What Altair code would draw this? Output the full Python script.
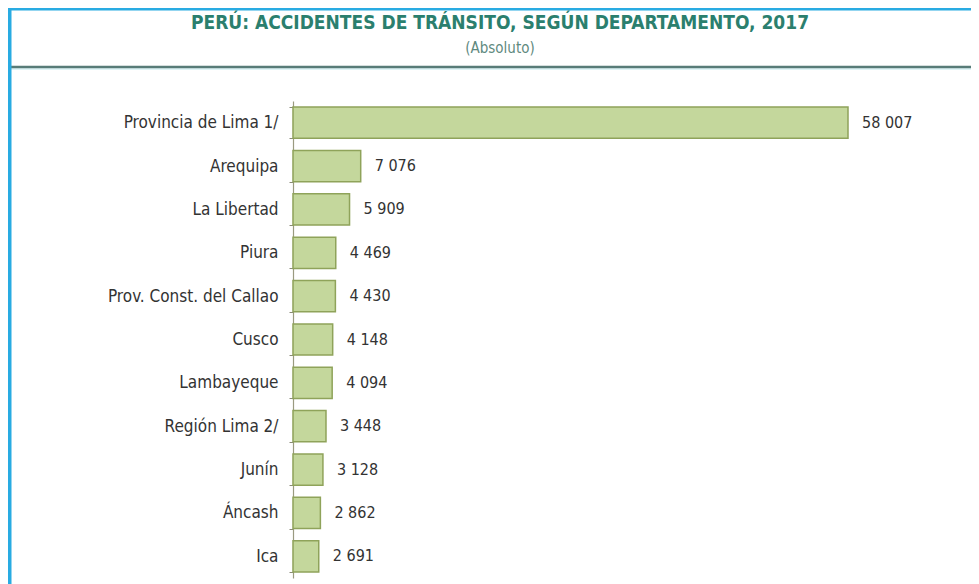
import altair as alt
import pandas as pd

departamentos = [
    "Provincia de Lima 1/", "Arequipa", "La Libertad", "Piura",
    "Prov. Const. del Callao", "Cusco", "Lambayeque", "Región Lima 2/",
    "Junín", "Áncash", "Ica",
]
accidentes = [58007, 7076, 5909, 4469, 4430, 4148, 4094, 3448, 3128, 2862, 2691]

titulo = "PERÚ: ACCIDENTES DE TRÁNSITO, SEGÚN DEPARTAMENTO, 2017"
subtitulo = "(Absoluto)"

df = pd.DataFrame({"dep": departamentos, "val": accidentes})

FONT = "Liberation Sans Narrow, Arial Narrow, DejaVu Sans Condensed, Liberation Sans, sans-serif"

W, H = 555, 477
PL, PT = 285, 93

y = alt.Y(
    "dep:N",
    sort=departamentos,
    title=None,
    scale=alt.Scale(paddingInner=0.28, paddingOuter=0.14),
    axis=alt.Axis(
        tickBand="extent",
        tickSize=4,
        tickColor="#8a8a78",
        domainColor="#9a9a80",
        domainWidth=1.2,
        labelFont=FONT,
        labelFontSize=17,
        labelColor="#333333",
        labelPadding=11,
        labelLimit=300,
    ),
)
x = alt.X(
    "val:Q",
    title=None,
    scale=alt.Scale(domain=[0, 58007], nice=False, zero=True),
    axis=None,
)

base = alt.Chart(df)

bars = base.mark_bar(
    color="#c4d79c", stroke="#8fa35a", strokeWidth=1.5
).encode(x=x, y=y)

labels = base.transform_calculate(
    lab="replace(format(datum.val, ','), ',', ' ')"
).mark_text(
    align="left", baseline="middle", dx=14, font=FONT, fontSize=16, color="#333333"
).encode(x=x, y=alt.Y("dep:N", sort=departamentos), text="lab:N")

one = pd.DataFrame({"t": [titulo], "s": [subtitulo]})

title_txt = alt.Chart(one).mark_text(
    font=FONT, fontSize=19, fontWeight="bold", color="#2b7f6e",
    align="center", baseline="middle",
).encode(x=alt.value(207), y=alt.value(-78), text="t:N")

sub_txt = alt.Chart(one).mark_text(
    font=FONT, fontSize=15, color="#5f8a80",
    align="center", baseline="middle",
).encode(x=alt.value(207), y=alt.value(-53), text="s:N")

left_border = alt.Chart(one).mark_rule(color="#29abe2", strokeWidth=3.5).encode(
    x=alt.value(-PL + 1.75), y=alt.value(-PT), y2=alt.value(H + 10)
)
top_border = alt.Chart(one).mark_rule(color="#29abe2", strokeWidth=2.5).encode(
    y=alt.value(-PT + 1.25), x=alt.value(-PL), x2=alt.value(963 - PL)
)
sep_line = alt.Chart(one).mark_rule(color="#587c78", strokeWidth=2.5).encode(
    y=alt.value(-34), x=alt.value(-PL + 3), x2=alt.value(963 - PL)
)
sep_light = alt.Chart(one).mark_rule(color="#bfe9ee", strokeWidth=1).encode(
    y=alt.value(-32), x=alt.value(-PL + 3), x2=alt.value(963 - PL)
)

chart = alt.layer(
    sep_light, sep_line, left_border, top_border, title_txt, sub_txt, bars, labels
).properties(
    width=W, height=H,
    autosize=alt.AutoSizeParams(type="none"),
    padding={"left": PL, "top": PT, "right": 963 - PL - W, "bottom": 576 - PT - H},
).configure(background="white").configure_view(strokeWidth=0, stroke=None)

chart.save("out.html", embed_options={"renderer": "svg", "actions": False})
